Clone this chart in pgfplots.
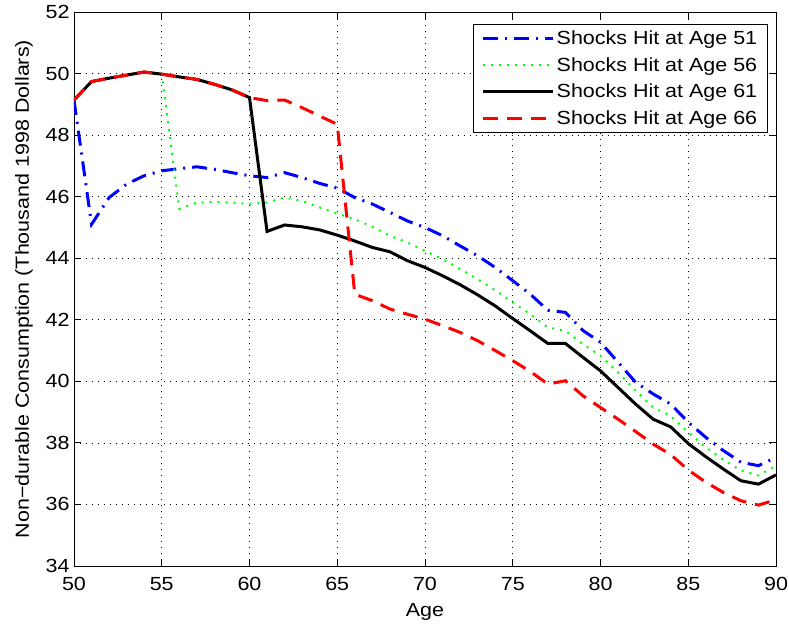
\documentclass[border=0pt]{standalone}
\usepackage{pgfplots}
\pgfplotsset{compat=1.18}
\usepackage{fontspec}
\setmainfont{Liberation Sans}[FakeStretch=1.13]

% Consumption paths by the age at which the shock hits
\pgfplotstableread{
age c51 c56 c61 c66
50 49.14 49.14 49.14 49.14
51 45.10 49.74 49.74 49.74
52 45.97 49.85 49.85 49.85
53 46.41 49.95 49.95 49.95
54 46.68 50.05 50.05 50.05
55 46.84 49.98 49.98 49.98
56 46.91 45.60 49.89 49.89
57 46.97 45.81 49.81 49.81
58 46.89 45.83 49.65 49.65
59 46.78 45.81 49.47 49.47
60 46.68 45.76 49.22 49.22
61 46.62 45.81 44.87 49.12
62 46.78 45.97 45.08 49.14
63 46.62 45.86 45.02 48.89
64 46.43 45.65 44.92 48.62
65 46.28 45.45 44.75 48.35
66 45.97 45.27 44.56 42.83
67 45.76 45.02 44.35 42.62
68 45.49 44.73 44.21 42.35
69 45.21 44.51 43.92 42.18
70 45.00 44.24 43.70 42.02
71 44.73 43.97 43.43 41.81
72 44.40 43.65 43.14 41.59
73 44.08 43.32 42.81 41.32
74 43.70 42.96 42.45 41.00
75 43.27 42.56 42.04 40.67
76 42.83 42.18 41.64 40.32
77 42.31 41.75 41.23 39.91
78 42.24 41.64 41.23 40.02
79 41.65 41.21 40.78 39.53
80 41.27 40.83 40.34 39.15
81 40.62 40.29 39.80 38.77
82 39.97 39.70 39.26 38.37
83 39.59 39.15 38.77 37.96
84 39.26 38.88 38.52 37.62
85 38.67 38.34 37.98 37.12
86 38.18 37.86 37.55 36.72
87 37.75 37.45 37.15 36.39
88 37.37 37.10 36.77 36.12
89 37.26 36.94 36.66 35.98
90 37.53 37.26 36.96 36.15
}\consumption

\begin{document}
\begin{tikzpicture}
\begin{axis}[
  name=ax,
  scale only axis,
  width=702pt, height=554pt,
  xmin=50, xmax=90, ymin=34, ymax=52,
  xtick={50,55,...,90},
  ytick={34,36,...,52},
  tick align=inside,
  major tick length=7pt,
  tick style={black, line width=0.8pt},
  axis line style={black, line width=0.8pt},
  grid=major,
  major grid style={black, line width=0.6pt, dash pattern=on 1pt off 5pt},
  font=\fontsize{19}{22}\selectfont,
  /pgf/number format/assume math mode=true,
  xticklabel style={yshift=-8pt},
  yticklabel style={xshift=-1pt},
  xlabel={Age},
  ylabel={Non\textminus durable Consumption (Thousand 1998 Dollars)},
  xlabel style={yshift=-6pt},
  ylabel style={yshift=6pt},
  legend cell align=left,
  legend style={at={(rel axis cs:0.988,0.978)}, anchor=north east,
    draw=black, line width=0.8pt, inner xsep=8pt, inner ysep=4pt, row sep=7.5pt,
    font=\fontsize{19}{22}\selectfont},
  legend image code/.code={\draw[#1] (0pt,0pt) -- (70pt,0pt);},
]
\addplot[blue, line width=3pt, dash pattern=on 15pt off 7pt on 2pt off 7pt] table[x=age, y=c51] {\consumption};
\addlegendentry{Shocks Hit at Age 51}
\addplot[green, line width=2pt, dash pattern=on 2pt off 6pt] table[x=age, y=c56] {\consumption};
\addlegendentry{Shocks Hit at Age 56}
\addplot[black, line width=3pt] table[x=age, y=c61] {\consumption};
\addlegendentry{Shocks Hit at Age 61}
\addplot[red, line width=3pt, dash pattern=on 15pt off 9pt] table[x=age, y=c66] {\consumption};
\addlegendentry{Shocks Hit at Age 66}
\end{axis}
\pgfresetboundingbox
\path ([shift={(-74pt,-61pt)}]ax.south west) rectangle ([shift={(13pt,12pt)}]ax.north east);
\end{tikzpicture}
\end{document}
